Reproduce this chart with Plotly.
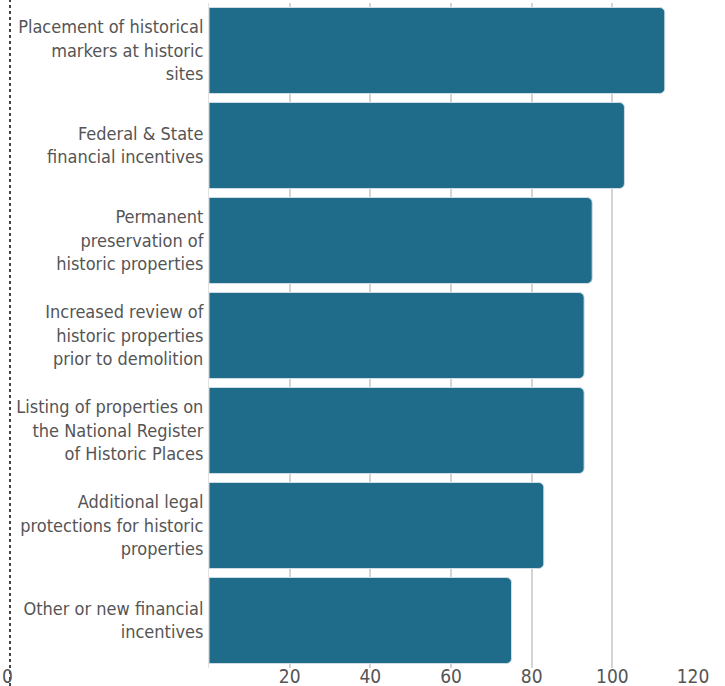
import plotly.graph_objects as go

categories = [
    "Placement of historical<br>markers at historic<br>sites",
    "Federal & State<br>financial incentives",
    "Permanent<br>preservation of<br>historic properties",
    "Increased review of<br>historic properties<br>prior to demolition",
    "Listing of properties on<br>the National Register<br>of Historic Places",
    "Additional legal<br>protections for historic<br>properties",
    "Other or new financial<br>incentives",
]
values = [113, 103, 95, 93, 93, 83, 75]
tick_vals = [20, 40, 60, 80, 100, 120]

FONT = "DejaVu Sans Condensed, sans-serif"
TXT = "#555555"

fig = go.Figure(go.Bar(
    y=categories, x=values, orientation="h",
    marker=dict(color="#1f6b8a", line=dict(color="#cfdde4", width=1)),
    hoverinfo="x+y",
))

W_L, W_R, M_T, M_B = 209, 32, 3, 18
plot_w = 725 - W_L - W_R
plot_h = 686 - M_T - M_B

fig.update_layout(
    width=725, height=686,
    margin=dict(l=W_L, r=W_R, t=M_T, b=M_B),
    paper_bgcolor="white", plot_bgcolor="white",
    bargap=0.095, barcornerradius=5,
    showlegend=False,
    font=dict(family=FONT, size=18, color=TXT),
    xaxis=dict(range=[0, 120], tickvals=tick_vals, showgrid=True,
               gridcolor="#d4d4d4", gridwidth=2, zeroline=False,
               showline=False, ticks="", automargin=False,
               anchor="free", position=5 / plot_h,
               tickfont=dict(family=FONT, size=19, color=TXT)),
    yaxis=dict(autorange="reversed", showgrid=False, zeroline=False,
               showline=True, linecolor="#e2e2e2", linewidth=1,
               ticks="", ticklabelstandoff=1, automargin=False,
               tickfont=dict(family=FONT, size=18, color=TXT)),
    shapes=[dict(type="line", xref="paper", yref="paper",
                 x0=(10 - W_L) / plot_w, x1=(10 - W_L) / plot_w,
                 y0=-M_B / plot_h, y1=1 + M_T / plot_h,
                 line=dict(color="#444444", width=2, dash="dot"))],
    annotations=[dict(text="0", xref="paper", yref="paper",
                      x=(1 - W_L) / plot_w, y=0, xanchor="left", yanchor="top",
                      showarrow=False, yshift=4, borderpad=0,
                      font=dict(family=FONT, size=19, color=TXT))],
)

fig.write_html("out.html", config={"displayModeBar": False},
               post_script="document.body.style.margin='0';document.body.style.padding='0';document.body.style.overflow='hidden';")
